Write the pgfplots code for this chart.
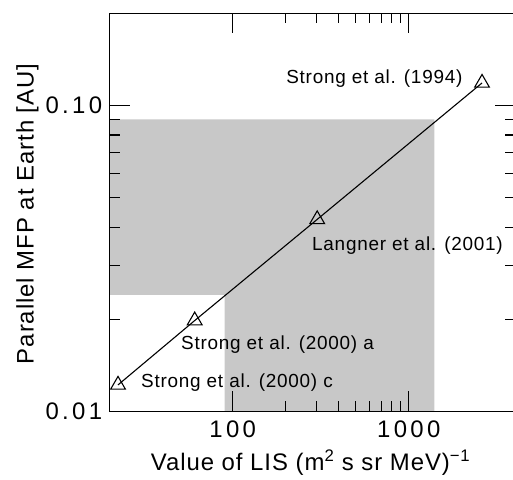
\documentclass[border=0pt]{standalone}
\usepackage{fontspec}
\setmainfont{Liberation Sans}[LetterSpace=4]
\newfontfamily\tickfont{Liberation Sans}[LetterSpace=14]
\usepackage{pgfplots}
\pgfplotsset{compat=1.18}
\definecolor{band}{RGB}{200,200,200}
\begin{document}
\begin{tikzpicture}
\begin{axis}[
  xmode=log, ymode=log,
  scale only axis, width=405bp, height=398bp,
  xmin=20, xmax=4000, ymin=0.01, ymax=0.2,
  axis on top,
  axis line style={line width=1.2bp},
  every tick/.style={black, line width=1.2bp},
  tick align=inside,
  major tick length=20bp, minor tick length=10bp,
  xtick={100,1000}, xticklabels={100,1000},
  ytick={0.01,0.1}, yticklabels={0.01,0.10},
  tick label style={font=\tickfont\fontsize{24}{24}\selectfont},
  xticklabel style={yshift=-6bp},
  yticklabel style={xshift=-4bp},
  xlabel={Value of LIS (m\textsuperscript{2} s sr MeV)\textsuperscript{−1}},
  ylabel={Parallel MFP at Earth [AU]},
  label style={font=\fontsize{24}{24}\selectfont},
  xlabel style={at={(axis description cs:0.496,-0.128)}, anchor=center},
  ylabel style={at={(axis description cs:-0.203,0.496)}, anchor=center, rotate=0},
]
\addplot[fill=band, draw=none, forget plot] coordinates {
  (20,0.024) (90,0.024) (90,0.01) (1400,0.01) (1400,0.09) (20,0.09)
} -- cycle;
\addplot[black, line width=1.1bp, mark=triangle, mark size=8.5bp,
  mark options={line width=1.1bp, fill=none}] coordinates {
  (22.3,0.0122) (60.8,0.0198) (302,0.0424) (2609,0.1184)
};
\node[anchor=west, inner sep=0pt, font=\fontsize{19}{19}\selectfont] at (axis cs:201,0.1225) {Strong et al. (1994)};
\node[anchor=west, inner sep=0pt, font=\fontsize{19}{19}\selectfont] at (axis cs:282,0.0347) {Langner et al. (2001)};
\node[anchor=west, inner sep=0pt, font=\fontsize{19}{19}\selectfont] at (axis cs:50.8,0.01656) {Strong et al. (2000) a};
\node[anchor=west, inner sep=0pt, font=\fontsize{19}{19}\selectfont] at (axis cs:30.1,0.0124) {Strong et al. (2000) c};
\coordinate (sw) at (rel axis cs:0,0);
\coordinate (ne) at (rel axis cs:1,1);
\end{axis}
\pgfresetboundingbox
\path ([shift={(-109.7bp,-68bp)}]sw) rectangle ([shift={(-1.7bp,13.3bp)}]ne);
\end{tikzpicture}
\end{document}
